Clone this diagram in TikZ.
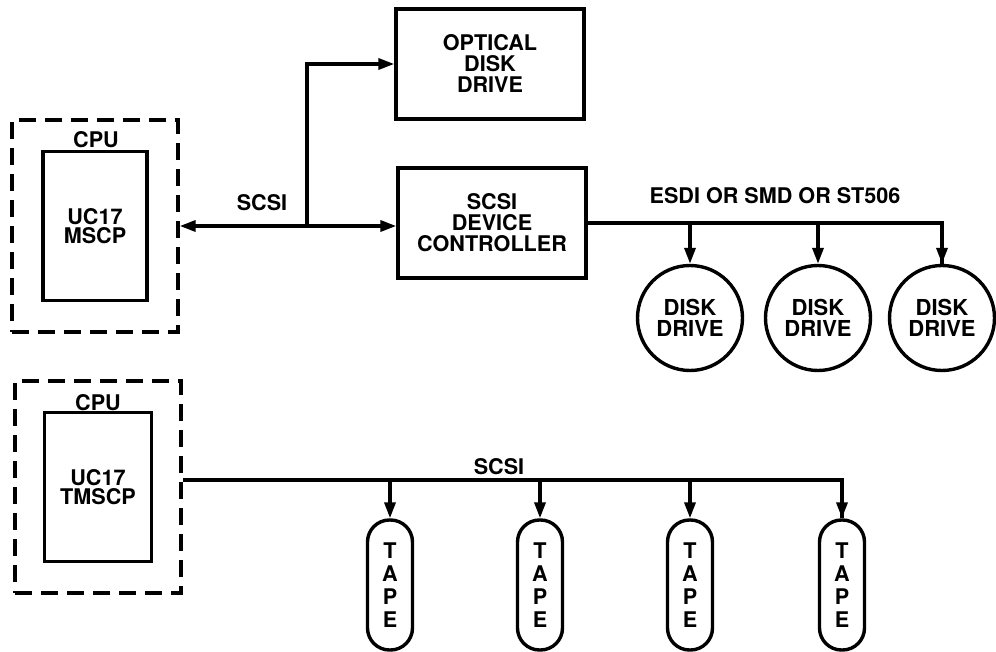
\documentclass[tikz,border=0pt]{standalone}
\usepackage{fontspec}
\setmainfont{TeX Gyre Heros}
\usepackage{tikz}
\usetikzlibrary{positioning, arrows.meta, calc}
\tikzset{
  cpubox/.style  = {rectangle, draw, line width=1.7pt,
                    dash pattern=on 8.5pt off 4.5pt,
                    minimum width=83pt, minimum height=106pt},
  procbox/.style = {rectangle, draw, line width=1.7pt,
                    minimum width=52pt, minimum height=74.5pt,
                    align=center, font=\bfseries\fontsize{10.8}{9.5}\selectfont},
  devbox/.style  = {rectangle, draw, line width=1.7pt,
                    minimum width=94pt, minimum height=55pt,
                    align=center, font=\bfseries\fontsize{10.8}{10.5}\selectfont},
  disk/.style    = {circle, draw, line width=1.7pt, minimum size=52.5pt,
                    inner sep=0pt, align=center,
                    font=\bfseries\fontsize{11}{10.5}\selectfont},
  tape/.style    = {rectangle, rounded corners=11pt, draw, line width=1.7pt,
                    minimum width=22.5pt, minimum height=65pt, inner sep=0pt,
                    align=center, font=\bfseries\fontsize{10.8}{11.5}\selectfont},
  lbl/.style     = {inner sep=0pt, font=\bfseries\fontsize{10.8}{10.5}\selectfont},
  bus/.style     = {line width=1.7pt},
  arr/.style     = {-{Triangle[length=8pt,width=5.5pt]}, line width=1.7pt},
  darr/.style    = {{Triangle[length=8pt,width=5.5pt]}-{Triangle[length=8pt,width=5.5pt]},
                    line width=1.7pt},
}

\begin{document}
\begin{tikzpicture}[x=0.5pt, y=-0.5pt]
  \useasboundingbox (0,0) rectangle (996,652);

  % Top: MSCP host, optical drive and device controller
  \node[procbox] (mscp) at (95,226) {UC17\\MSCP};
  \node[cpubox] (cpuA) at (95,226) {};
  \node[lbl] (cpuAlbl) at (96,140) {CPU};

  \node[devbox] (opt) at (490,64) {OPTICAL\\DISK\\DRIVE};
  \node[devbox] (ctrl) at (492,223) {SCSI\\DEVICE\\CONTROLLER};
  \node[lbl] (scsiA) at (262,203) {SCSI};
  \coordinate (tap) at (307,226);

  % Disk drives on the ESDI / SMD / ST506 bus
  \node[disk] (d1) at (690,318) {DISK\\DRIVE};
  \node[disk] (d2) at (818,318) {DISK\\DRIVE};
  \node[disk] (d3) at (942,318) {DISK\\DRIVE};
  \node[lbl] (esdi) at (775,196) {ESDI OR SMD OR ST506};

  % Bottom: TMSCP host and tapes
  \node[procbox, minimum width=53.5pt] (tmscp) at (98,487) {UC17\\TMSCP};
  \node[cpubox] (cpuB) at (98,487) {};
  \node[lbl] (cpuBlbl) at (98,403) {CPU};
  \node[lbl] (scsiB) at (499,467) {SCSI};

  \node[tape] (t1) at (390,585) {T\\A\\P\\E};
  \node[tape] (t2) at (540,585) {T\\A\\P\\E};
  \node[tape] (t3) at (690,585) {T\\A\\P\\E};
  \node[tape] (t4) at (842,585) {T\\A\\P\\E};

  % Arrows
  \draw[darr] (cpuA.east) -- (ctrl.west |- cpuA.east);
  \draw[arr] (tap) |- (opt.west);
  \draw[bus] (ctrl.east) -| (d3.north);
  \foreach \d in {d1,d2,d3}
    \draw[arr] (ctrl.east -| \d.north) -- (\d.north);

  \draw[bus] ([yshift=3.5pt]cpuB.east) -| (t4.north);
  \foreach \t in {t1,t2,t3,t4}
    \draw[arr] ([yshift=3.5pt]cpuB.east -| \t.north) -- (\t.north);

\end{tikzpicture}
\end{document}
